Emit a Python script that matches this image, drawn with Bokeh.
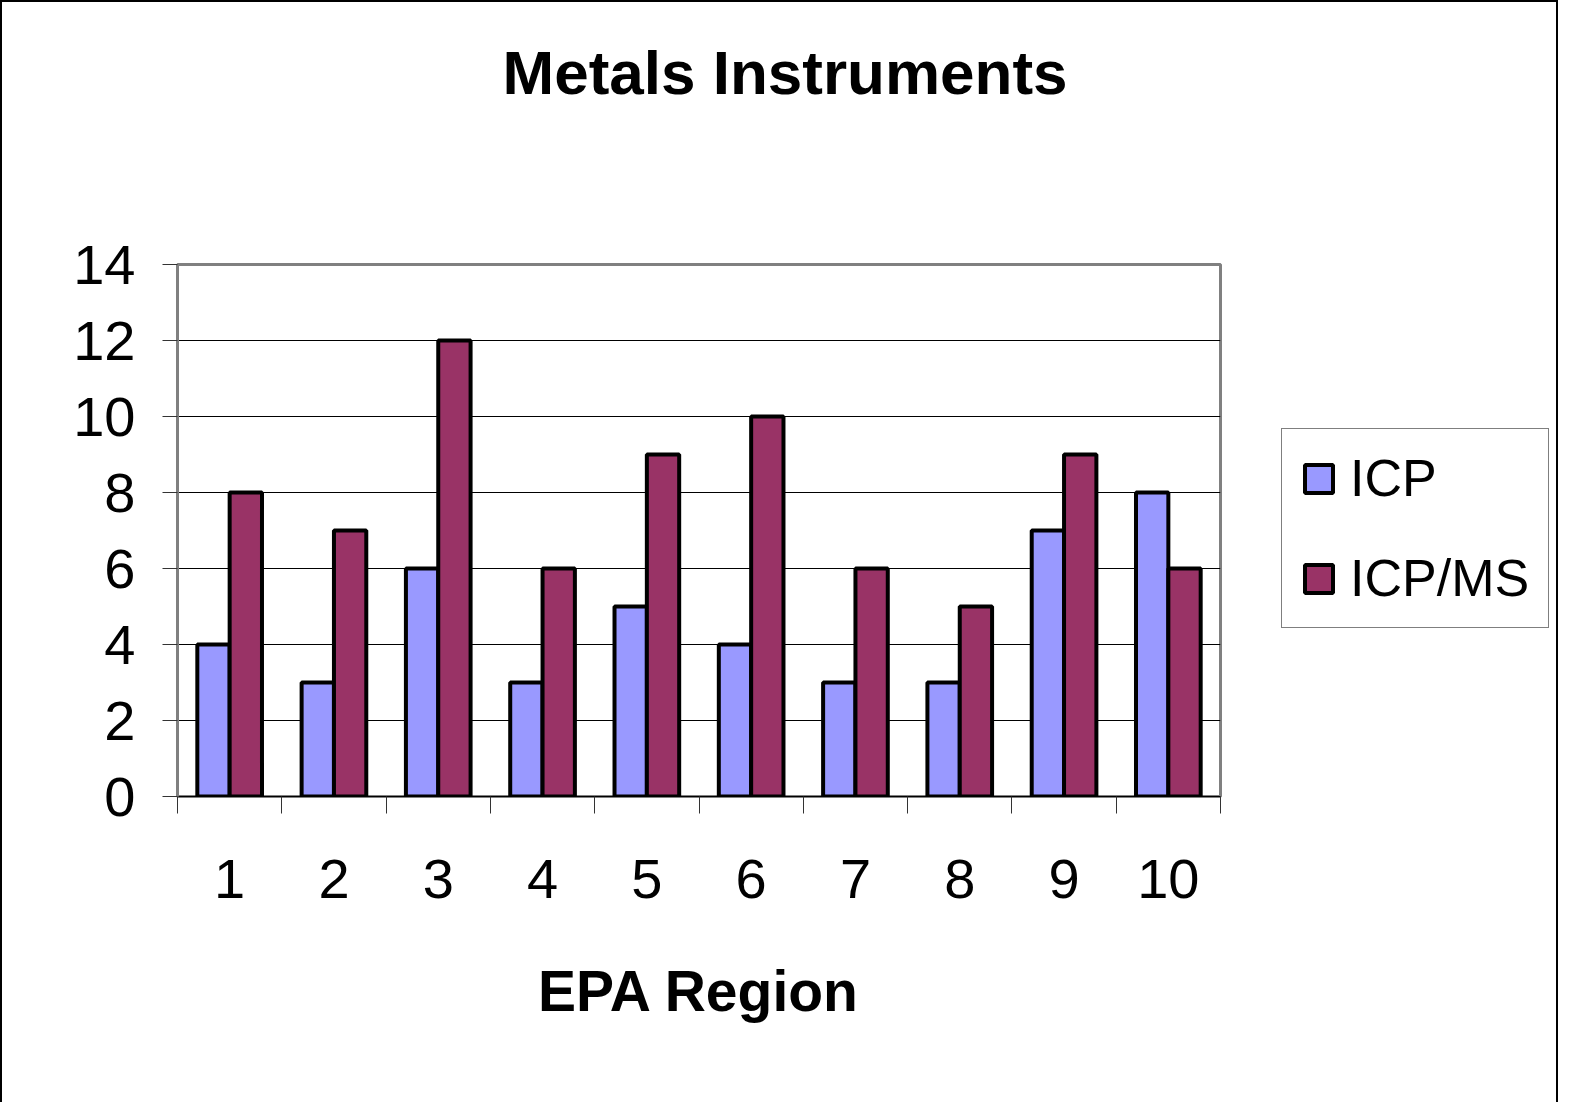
from bokeh.plotting import figure
from bokeh.layouts import row
from bokeh.models import (ColumnDataSource, Range1d, FixedTicker, Legend, LegendItem, Title)
from bokeh.transform import dodge
from bokeh.embed import file_html
from bokeh.resources import INLINE

# ---- data ----
regions = [1, 2, 3, 4, 5, 6, 7, 8, 9, 10]
region_labels = ["1", "2", "3", "4", "5", "6", "7", "8", "9", "10"]
icp = [4, 3, 6, 3, 5, 4, 3, 3, 7, 8]
icp_ms = [8, 7, 12, 6, 9, 10, 6, 5, 9, 6]
y_ticks = [0, 2, 4, 6, 8, 10, 12, 14]
series_names = ["ICP", "ICP/MS"]
series_colors = ["#9999FF", "#993366"]

source = ColumnDataSource(dict(region=regions, icp=icp, icp_ms=icp_ms))

p = figure(width=1238, height=1100, output_backend="svg", toolbar_location=None,
           x_range=Range1d(0.5, 10.5), y_range=Range1d(0, 14),
           min_border_left=175, min_border_right=20, min_border_top=262,
           min_border_bottom=306)

p.background_fill_color = "white"
p.border_fill_color = "white"
p.outline_line_color = "#808080"
p.outline_line_width = 3

# spacer between the frame and the title, then the title itself
p.add_layout(Title(text=" ", text_font_size="1px", standoff=150), "above")
p.add_layout(Title(text="Metals Instruments", align="left", offset=325, standoff=10,
                   text_font="Liberation Sans", text_font_size="62px",
                   text_font_style="bold", text_color="black"), "above")

r1 = p.vbar(x=dodge("region", -0.155), top="icp", width=0.31, source=source,
            fill_color=series_colors[0], line_color="black", line_width=4)
r2 = p.vbar(x=dodge("region", 0.155), top="icp_ms", width=0.31, source=source,
            fill_color=series_colors[1], line_color="black", line_width=4)

# x axis
xa = p.xaxis[0]
xa.ticker = FixedTicker(ticks=regions, minor_ticks=[r - 0.5 for r in regions] + [10.5])
xa.major_label_overrides = {r: lab for r, lab in zip(regions, region_labels)}
xa.major_tick_out = 0
xa.major_tick_in = 0
xa.minor_tick_out = 17
xa.minor_tick_in = 0
xa.minor_tick_line_color = "#333333"
xa.minor_tick_line_width = 1
xa.axis_line_color = "black"
xa.axis_line_width = 1
xa.major_label_text_font = "Liberation Sans"
xa.major_label_text_font_size = "56px"
xa.major_label_text_color = "black"
xa.major_label_standoff = 46
xa.axis_label = "EPA Region"
xa.axis_label_text_font = "Liberation Sans"
xa.axis_label_text_font_size = "57px"
xa.axis_label_text_font_style = "bold"
xa.axis_label_text_color = "black"
xa.axis_label_standoff = 58

# y axis
ya = p.yaxis[0]
ya.ticker = FixedTicker(ticks=y_ticks)
ya.major_tick_out = 15
ya.major_tick_in = 0
ya.minor_tick_out = 0
ya.minor_tick_in = 0
ya.major_tick_line_color = "#333333"
ya.axis_line_color = "#808080"
ya.axis_line_width = 3
ya.major_label_text_font = "Liberation Sans"
ya.major_label_text_font_size = "56px"
ya.major_label_text_color = "black"
ya.major_label_standoff = 27

p.xgrid.visible = False
p.ygrid.grid_line_color = "black"
p.ygrid.grid_line_width = 1
p.ygrid.grid_line_alpha = 1

# legend panel (separate figure to the right so the legend is not clipped);
# its bars use the same data but lie outside its (hidden) view
pl = figure(width=318, height=1100, output_backend="svg", toolbar_location=None,
            x_range=Range1d(-2, -1), y_range=Range1d(-2, -1),
            x_axis_location=None, y_axis_location=None, min_border=0)
pl.outline_line_color = None
pl.grid.visible = False
pl.background_fill_color = "white"
pl.border_fill_color = "white"
pl.styles = {"border-right": "2px solid black"}
lr1 = pl.vbar(x="region", top="icp", width=0.31, source=source,
              fill_color=series_colors[0], line_color="black", line_width=4)
lr2 = pl.vbar(x="region", top="icp_ms", width=0.31, source=source,
              fill_color=series_colors[1], line_color="black", line_width=4)

legend = Legend(items=[LegendItem(label=series_names[0], renderers=[lr1]),
                       LegendItem(label=series_names[1], renderers=[lr2])],
                location=(41, 168), orientation="vertical",
                border_line_color="black", border_line_width=1,
                background_fill_color="white", background_fill_alpha=1,
                label_text_font="Liberation Sans", label_text_font_size="52px",
                label_text_color="black", glyph_width=35, glyph_height=35,
                padding=19, margin=0, spacing=40, label_standoff=14)
pl.add_layout(legend, "center")

layout = row(p, pl)
layout.styles = {"border-left": "2px solid black", "border-top": "2px solid black"}

open("out.html", "w").write(file_html(layout, INLINE))
